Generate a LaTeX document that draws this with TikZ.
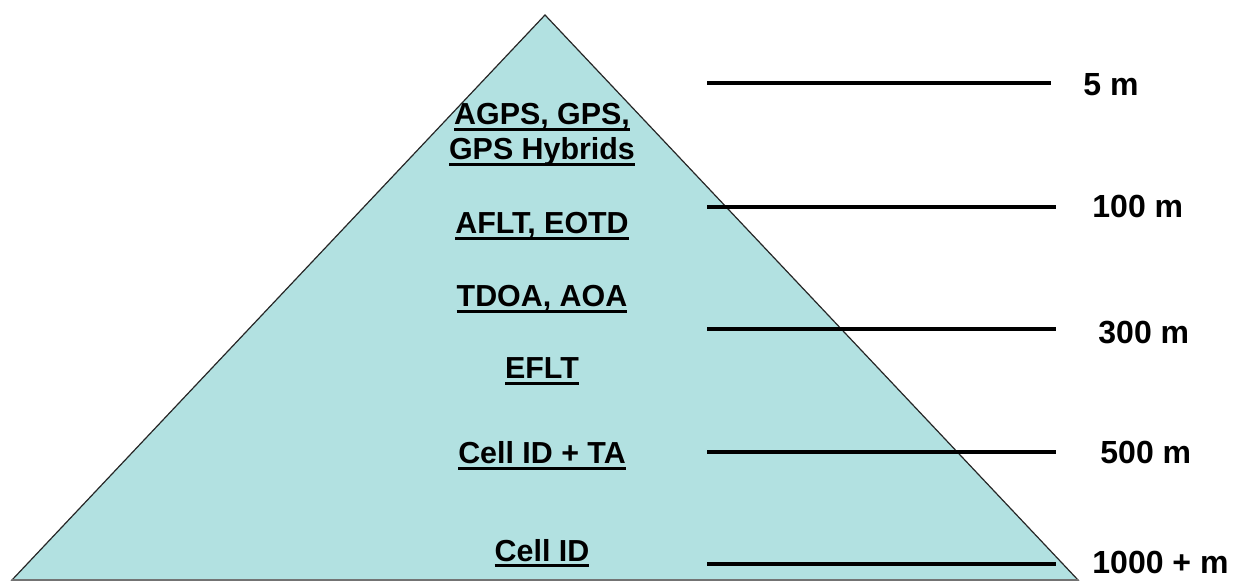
\documentclass[tikz,border=0pt]{standalone}
\usepackage{fontspec}
\setmainfont{Liberation Sans}
\usepackage{tikz}
\usetikzlibrary{calc,positioning}

\definecolor{pyrfill}{RGB}{178,225,225}
\newsavebox{\ulsave}
\newcommand{\ulbox}[1]{\sbox{\ulsave}{#1}\rlap{\rule[-3.2pt]{\wd\ulsave}{1.5pt}}\usebox{\ulsave}}

\begin{document}
\begin{tikzpicture}[x=0.5pt,y=-0.5pt]
      %%%%%%%%%%%%%%%%%%%%%%%%%%%%%%%%%%%%%%%%%%%%%%%%%%
      %% accuracy pyramid
      %%%%%%%%%%%%%%%%%%%%%%%%%%%%%%%%%%%%%%%%%%%%%%%%%%
      \tikzstyle{tech} = [inner sep = 0pt, anchor = base, font = \fontsize{15.2}{18}\selectfont\bfseries]
      \tikzstyle{dist} = [inner sep = 0pt, anchor = base west, font = \fontsize{16}{19}\selectfont\bfseries]
      \tikzstyle{level} = [line width = 2.2pt]
      \useasboundingbox (0,0) rectangle (1240,581);
      \coordinate (apex) at (545,15);
      \coordinate (bl) at (12,580);
      \coordinate (br) at (1078,580);
      \filldraw[fill=pyrfill, draw=black!85, line width=0.6pt] (bl) -- (apex) -- (br) -- cycle;
      \draw[black!55, line width=0.8pt] (bl) -- (br);
      % techniques
      \node[tech] (t1) at (542,125) {\ulbox{AGPS, GPS,}};
      \node[tech] (t2) at (542,160) {\ulbox{GPS Hybrids}};
      \node[tech] (t3) at (542,234) {\ulbox{AFLT, EOTD}};
      \node[tech] (t4) at (542,307) {\ulbox{TDOA, AOA}};
      \node[tech] (t5) at (542,379) {\ulbox{EFLT}};
      \node[tech] (t6) at (542,464) {\ulbox{Cell ID + TA}};
      \node[tech] (t7) at (542,561) {\ulbox{Cell ID}};
      % accuracy levels
      \node[dist] (d1) at (1083,96) {5 m};
      \node[dist] (d2) at (1092,218) {100 m};
      \node[dist] (d3) at (1098,344) {300 m};
      \node[dist] (d4) at (1100,464) {500 m};
      \node[dist] (d5) at (1092,574) {1000 + m};
      \coordinate (a1) at (707,83);  \coordinate (b1) at (1051,83);
      \coordinate (a2) at (707,207); \coordinate (b2) at (1056,207);
      \coordinate (a3) at (707,329); \coordinate (b3) at (1056,329);
      \coordinate (a4) at (707,452); \coordinate (b4) at (1056,452);
      \coordinate (a5) at (707,564); \coordinate (b5) at (1056,564);
      \draw[level, line width=1.9pt] (a1) -- (b1);
      \draw[level] (a2) -- (b2);
      \draw[level] (a3) -- (b3);
      \draw[level] (a4) -- (b4);
      \draw[level] (a5) -- (b5);
    \end{tikzpicture}
\end{document}
